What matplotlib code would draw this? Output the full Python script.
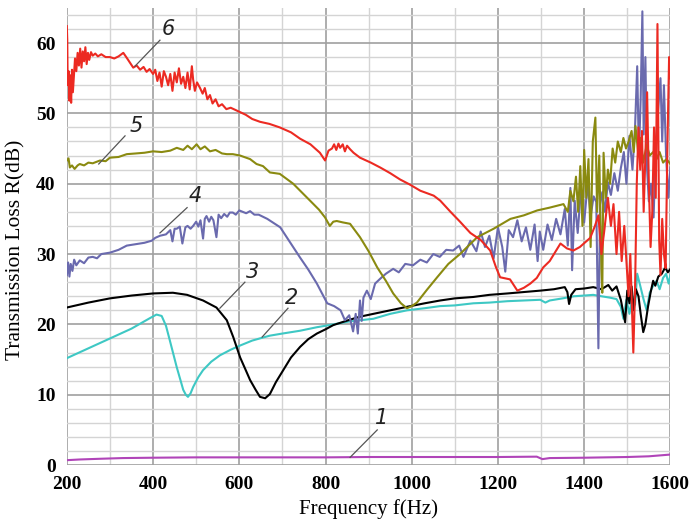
import numpy as np
import matplotlib
matplotlib.use('Agg')
import matplotlib.pyplot as plt
from matplotlib.ticker import MultipleLocator

# curve 1 (magenta)
f1 = [200, 230, 277, 330, 400, 500, 600, 700, 800, 900, 1000, 1100, 1200, 1290, 1303, 1320, 1400, 1450, 1500, 1550, 1580, 1600]
r1 = [0.7, 0.8, 0.9, 1.0, 1.05, 1.1, 1.1, 1.1, 1.1, 1.15, 1.15, 1.15, 1.15, 1.2, 0.85, 1.0, 1.05, 1.1, 1.15, 1.25, 1.4, 1.5]

# curve 2 (cyan)
f2 = [200, 250, 300, 350, 393, 408, 420, 430, 439, 447, 455, 463, 470, 476, 481, 487, 493, 505, 516, 535, 555, 580, 602, 630, 653, 671, 700, 741, 780, 818, 853, 911, 950, 989, 1030, 1066, 1100, 1143, 1180, 1222, 1260, 1298, 1310, 1320, 1350, 1376, 1400, 1421, 1440, 1460, 1475, 1485, 1491, 1498, 1505, 1512, 1518, 1523, 1530, 1538, 1545, 1552, 1560, 1568, 1575, 1583, 1590, 1596, 1600]
r2 = [15.2, 16.6, 18.0, 19.4, 20.9, 21.4, 21.2, 19.8, 17.7, 15.8, 13.9, 12.2, 10.7, 10.0, 9.7, 10.2, 11.1, 12.5, 13.5, 14.7, 15.6, 16.4, 17.0, 17.7, 18.1, 18.4, 18.7, 19.1, 19.6, 20.0, 20.4, 20.8, 21.5, 22.0, 22.3, 22.6, 22.7, 23.0, 23.1, 23.3, 23.4, 23.5, 23.1, 23.4, 23.7, 24.0, 24.1, 24.2, 24.0, 23.8, 23.6, 22.5, 20.8, 23.5, 21.5, 24.0, 22.8, 27.2, 25.5, 23.5, 22.0, 24.5, 25.5, 26.2, 25.0, 26.6, 27.2, 25.8, 27.0]

# curve 3 (black)
f3 = [200, 250, 300, 350, 400, 446, 479, 516, 547, 571, 586, 602, 615, 625, 638, 648, 660, 671, 685, 702, 720, 741, 760, 780, 800, 818, 853, 880, 911, 950, 989, 1030, 1066, 1100, 1143, 1180, 1222, 1260, 1298, 1330, 1355, 1361, 1365, 1370, 1380, 1400, 1421, 1440, 1456, 1465, 1475, 1485, 1495, 1500, 1505, 1510, 1515, 1520, 1526, 1531, 1537, 1542, 1548, 1554, 1560, 1565, 1572, 1580, 1588, 1594, 1600]
r3 = [22.4, 23.1, 23.7, 24.1, 24.4, 24.5, 24.2, 23.4, 22.4, 20.6, 18.2, 15.3, 13.5, 12.1, 10.7, 9.7, 9.5, 10.1, 11.8, 13.5, 15.3, 16.8, 17.9, 18.7, 19.3, 19.9, 20.6, 21.1, 21.5, 22.0, 22.5, 23.0, 23.4, 23.7, 23.9, 24.2, 24.4, 24.6, 24.8, 25.0, 25.3, 24.6, 22.9, 24.2, 25.0, 25.1, 25.3, 25.0, 25.6, 24.8, 25.4, 23.5, 20.3, 24.8, 23.0, 25.4, 22.0, 25.0, 24.0, 21.5, 18.9, 20.0, 22.5, 24.5, 26.2, 25.5, 26.8, 27.2, 28.1, 27.4, 27.9]

# curve 4 (slate blue)
f4 = [200, 203, 206, 209, 213, 217, 222, 230, 240, 250, 260, 270, 280, 300, 320, 339, 360, 380, 397, 405,
      416, 430, 440, 445, 450, 455, 462, 468, 475, 480, 487, 493, 500, 505, 510, 516, 520, 524, 530, 535,
      540, 547, 552, 558, 565, 572, 578, 585, 592, 600, 608, 616, 625, 635, 645, 655, 665, 680, 695, 710,
      725, 741, 760, 780, 804, 820, 835, 845, 855, 864, 870, 875, 880, 884, 888, 896, 905, 915, 927, 940,
      957, 970, 985, 1003, 1020, 1035, 1050, 1065, 1080, 1096, 1110, 1120, 1136, 1150, 1160, 1170, 1180, 1190, 1200, 1210,
      1217, 1225, 1235, 1245, 1255, 1265, 1275, 1285, 1292, 1297, 1305, 1315, 1325, 1335, 1345, 1355, 1362, 1368, 1372, 1378,
      1385, 1392, 1400, 1408, 1415, 1422, 1428, 1433, 1437, 1442, 1448, 1455, 1462, 1470, 1478, 1485, 1492, 1498, 1505, 1512,
      1518, 1523, 1527, 1531, 1535, 1538, 1542, 1546, 1550, 1555, 1561, 1566, 1571, 1577, 1581, 1585, 1590, 1595, 1600]
r4 = [27.0, 28.8, 26.8, 28.6, 27.6, 29.2, 28.4, 29.1, 28.7, 29.5, 29.6, 29.4, 30.0, 30.2, 30.6, 31.2, 31.4, 31.6, 31.9, 32.3,
      32.6, 32.8, 33.4, 31.8, 33.6, 33.6, 33.9, 31.5, 33.8, 34.0, 33.6, 34.0, 34.6, 33.9, 34.8, 32.2, 35.0, 35.4, 34.6, 35.3,
      34.8, 32.4, 35.6, 35.1, 35.7, 35.3, 35.9, 35.9, 35.6, 36.2, 36.0, 35.8, 36.1, 35.6, 35.6, 35.3, 35.0, 34.4, 33.8, 32.4,
      31.0, 29.5, 27.8, 25.8, 23.0, 22.6, 22.0, 20.6, 21.3, 19.0, 21.5, 18.7, 23.4, 20.5, 23.8, 24.8, 23.6, 25.8, 26.5, 27.2,
      27.9, 27.4, 28.6, 28.4, 29.2, 28.8, 30.0, 29.6, 30.6, 30.5, 31.2, 29.6, 31.9, 30.4, 33.2, 31.0, 32.6, 29.4, 33.8, 31.0,
      27.5, 33.4, 32.4, 34.8, 31.8, 33.8, 30.6, 34.2, 29.0, 33.2, 30.6, 34.2, 32.0, 35.0, 32.8, 36.4, 31.2, 39.4, 27.7, 37.6,
      33.0, 38.8, 34.5, 40.0, 35.4, 38.2, 37.4, 16.6, 37.0, 38.8, 36.0, 40.2, 38.4, 41.5, 39.0, 42.2, 44.5, 40.0, 46.8, 42.0,
      48.0, 56.7, 44.0, 52.0, 64.5, 47.0, 58.0, 42.0, 37.5, 40.0, 35.2, 45.0, 50.0, 55.0, 46.0, 54.0, 44.0, 38.0, 42.3]

# curve 5 (olive)
f5 = [200, 204, 207, 212, 218, 225, 230, 240, 250, 260, 277, 290, 300, 320, 339, 360, 380, 400, 420, 440, 455, 470, 480, 490, 501, 510, 520, 532, 545, 560, 571, 585, 602, 625, 640, 655, 671, 694, 725, 764, 785, 799, 810, 818, 826, 840, 857, 880, 900, 920, 940, 957, 975, 989, 1000, 1012, 1035, 1059, 1085, 1112, 1152, 1190, 1229, 1260, 1291, 1320, 1352, 1362, 1368, 1375, 1381, 1386, 1391, 1396, 1400, 1405, 1410, 1415, 1420, 1426, 1430, 1435, 1440, 1442, 1445, 1450, 1455, 1460, 1466, 1472, 1478, 1485, 1491, 1497, 1503, 1510, 1515, 1519, 1525, 1531, 1537, 1545, 1552, 1560, 1568, 1575, 1583, 1591, 1600]
r5 = [43.3, 43.6, 42.3, 42.6, 42.1, 42.6, 42.8, 42.6, 43.0, 42.9, 43.3, 43.2, 43.7, 43.8, 44.2, 44.3, 44.4, 44.6, 44.5, 44.7, 45.1, 44.8, 45.4, 44.9, 45.6, 44.9, 45.3, 44.6, 44.8, 44.3, 44.2, 44.2, 44.0, 43.5, 42.8, 42.5, 41.6, 41.4, 40.0, 37.6, 36.3, 35.2, 34.0, 34.6, 34.7, 34.5, 34.3, 32.4, 30.4, 28.1, 26.2, 24.4, 23.0, 22.3, 22.6, 23.1, 24.9, 26.7, 28.6, 30.0, 32.4, 33.6, 35.0, 35.5, 36.2, 36.6, 37.1, 36.0, 39.0, 37.5, 41.0, 36.0, 42.5, 34.0, 44.8, 38.0, 43.5, 31.0, 46.0, 49.4, 36.0, 44.0, 28.0, 24.5, 44.4, 38.0, 42.0, 40.0, 45.0, 43.0, 46.0, 44.5, 46.5, 45.0, 46.0, 47.5, 44.5, 48.2, 44.5, 46.5, 43.0, 45.5, 44.0, 44.5, 43.5, 44.5, 43.0, 43.5, 42.8]

# curve 6 (red)
f6 = [200, 201, 202, 204, 206, 208, 210, 212, 214, 217, 219, 222, 225, 228, 231, 234, 237, 240, 243, 246,
      249, 252, 256, 260, 266, 272, 280, 290, 300, 310, 320, 331, 340, 354, 362, 370, 378, 385, 392, 400,
      405, 410, 415, 420, 425, 430, 435, 440, 445, 450, 455, 460, 465, 470, 475, 480, 485, 490, 493, 497,
      502, 509, 515, 520, 526, 532, 538, 545, 552, 560, 570, 580, 594, 601, 615, 630, 648, 670, 694, 720,
      741, 765, 787, 799, 807, 815, 820, 825, 830, 834, 840, 845, 850, 857, 865, 880, 905, 927, 950, 973,
      995, 1020, 1051, 1066, 1090, 1112, 1136, 1160, 1182, 1195, 1205, 1228, 1245, 1260, 1275, 1290, 1305, 1320, 1335, 1345,
      1360, 1375, 1390, 1405, 1414, 1425, 1433, 1440, 1447, 1455, 1462, 1468, 1475, 1481, 1487, 1493, 1499, 1503, 1507, 1511,
      1514, 1518, 1522, 1526, 1530, 1534, 1538, 1542, 1546, 1550, 1554, 1558, 1562, 1566, 1570, 1574, 1577, 1581, 1585, 1589,
      1593, 1597, 1600]
r6 = [62.4, 60.5, 54.0, 56.0, 51.8, 55.4, 51.5, 56.2, 53.0, 55.8, 57.8, 56.0, 58.6, 56.8, 59.2, 56.5, 58.8, 57.4, 59.4, 57.0,
      58.6, 57.6, 58.7, 58.2, 58.5, 58.1, 58.4, 58.0, 58.0, 57.8, 58.1, 58.6, 57.8, 56.5, 56.8, 56.2, 56.6, 55.9, 56.3, 55.6,
      56.2, 54.6, 55.8, 53.8, 56.0, 55.2, 54.0, 55.6, 53.2, 55.8, 54.4, 56.4, 54.2, 55.2, 53.6, 55.8, 53.4, 56.7, 54.8, 53.2,
      54.4, 53.6, 52.8, 53.6, 52.0, 52.6, 51.4, 52.0, 51.0, 51.3, 50.6, 50.8, 50.4, 50.2, 49.8, 49.2, 48.8, 48.5, 48.0, 47.3,
      46.4, 45.6, 44.4, 43.3, 44.7, 45.0, 45.6, 44.8, 45.7, 45.1, 45.6, 44.6, 45.4, 44.9, 44.4, 43.7, 43.0, 42.3, 41.5, 40.6,
      39.9, 39.0, 38.3, 37.6, 36.0, 34.6, 33.0, 32.0, 30.5, 28.2, 26.7, 26.4, 24.8, 25.2, 25.8, 26.6, 28.1, 29.0, 30.5, 31.5,
      30.8, 30.5, 31.0, 31.8, 32.3, 34.0, 35.5, 30.0, 33.5, 38.0, 34.0, 37.1, 30.0, 36.0, 29.0, 34.0, 28.0, 24.0, 30.0, 22.0,
      16.0, 25.0, 40.0, 48.0, 42.0, 47.5, 36.0, 44.0, 53.0, 40.0, 31.0, 36.0, 48.0, 38.0, 62.7, 32.0, 27.0, 35.0, 30.0, 28.0,
      45.0, 58.0, 55.0]

labels = ['1', '2', '3', '4', '5', '6']
colors = ['#b044b8', '#3ec8c4', '#000000', '#6a6aae', '#8a8a10', '#ec2a22']

# label text position and leader line (start, end) for each curve
lab_xy = [(931, 6.7), (722, 23.8), (630, 27.4), (497, 38.3), (362, 48.2), (435, 62.0)]
lead = [((857, 1.1), (920, 5.0)), ((653, 18.2), (713, 22.3)), ((555, 22.3), (613, 26.0)),
        ((416, 33.0), (479, 36.6)), ((274, 42.8), (335, 46.8)), ((358, 56.7), (416, 60.4))]

fig = plt.figure(figsize=(6.89, 5.22), dpi=100)
ax = fig.add_axes([0.097, 0.109, 0.876, 0.876])

curves = [(f1, r1), (f2, r2), (f3, r3), (f4, r4), (f5, r5), (f6, r6)]
for (f, r), c in zip(curves, colors):
    ax.plot(f, r, color=c, lw=1.5, zorder=3)

for lab, (tx, ty), ((x0, y0), (x1, y1)) in zip(labels, lab_xy, lead):
    ax.plot([x0, x1], [y0, y1], color='#555555', lw=0.9, zorder=4)
    ax.text(tx, ty, lab, fontsize=15, style='italic', family='DejaVu Sans',
            ha='center', va='center', color='#222222', zorder=5)

ax.set_xlim(200, 1600)
ax.set_ylim(0, 65)
ax.xaxis.set_major_locator(MultipleLocator(200))
ax.xaxis.set_minor_locator(MultipleLocator(100))
ax.yaxis.set_major_locator(MultipleLocator(10))
ax.yaxis.set_minor_locator(MultipleLocator(2))
ax.grid(which='major', color='#a0a0a0', lw=1.2)
ax.grid(which='minor', color='#d4d4d4', lw=1.0)
ax.set_axisbelow(True)
for s in ax.spines.values():
    s.set_visible(False)
ax.tick_params(which='both', length=0, pad=8)
for t in ax.get_xticklabels() + ax.get_yticklabels():
    t.set_fontfamily('Liberation Serif')
    t.set_fontweight('bold')
    t.set_fontsize(14)

ax.set_xlabel('Frequency f(Hz)', family='Liberation Serif', fontsize=15, labelpad=4)
ax.set_ylabel('Transmission Loss R(dB)', family='Liberation Serif', fontsize=15.5)
ax.yaxis.set_label_coords(-0.068, 0.47)

fig.savefig('out.png', dpi=100)
